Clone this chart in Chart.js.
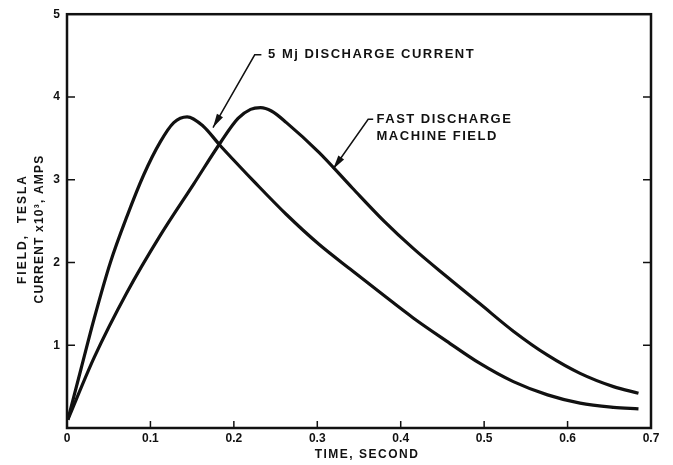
<!DOCTYPE html>
<html>
<head>
<meta charset="utf-8">
<script src="https://cdn.jsdelivr.net/npm/chart.js@4/dist/chart.umd.min.js"></script>
<style>
  html, body { margin: 0; padding: 0; background: #fff; }
  #wrap { width: 673px; height: 465px; position: relative; }
</style>
</head>
<body>
<div id="wrap"><canvas id="chart"></canvas></div>
<script>
// values
const currentTime = [0.001, 0.0167, 0.0325, 0.052, 0.072, 0.092, 0.112, 0.128, 0.144, 0.163, 0.183, 0.207, 0.224, 0.263, 0.302, 0.342, 0.38, 0.415, 0.455, 0.495, 0.535, 0.576, 0.615, 0.655, 0.685];
const currentValues = [0.1, 0.71, 1.32, 2.0, 2.56, 3.06, 3.46, 3.69, 3.76, 3.65, 3.42, 3.16, 2.98, 2.58, 2.22, 1.9, 1.6, 1.33, 1.05, 0.78, 0.56, 0.4, 0.3, 0.25, 0.23];

const fieldTime = [0.001, 0.0325, 0.072, 0.112, 0.152, 0.184, 0.205, 0.22, 0.232, 0.245, 0.263, 0.302, 0.342, 0.38, 0.415, 0.455, 0.495, 0.535, 0.576, 0.615, 0.655, 0.685];
const fieldValues = [0.1, 0.85, 1.64, 2.33, 2.95, 3.45, 3.74, 3.85, 3.87, 3.83, 3.69, 3.33, 2.9, 2.5, 2.17, 1.83, 1.5, 1.17, 0.88, 0.66, 0.5, 0.42];

const xTicks = [0, 0.1, 0.2, 0.3, 0.4, 0.5, 0.6, 0.7];
const yTicks = [0, 1, 2, 3, 4, 5];

const xTitle = 'TIME, SECOND';
const yTitle = ['FIELD,  TESLA', 'CURRENT x10³, AMPS'];

// leader labels: text lines, label anchor and arrow path (data units)
const labels = [
    { lines: ['5 Mj DISCHARGE CURRENT'], at: [0.241, 4.51], path: [[0.233, 4.51], [0.225, 4.51], [0.175, 3.63]] },
    { lines: ['FAST DISCHARGE', 'MACHINE FIELD'], at: [0.371, 3.73], path: [[0.367, 3.73], [0.361, 3.73], [0.319, 3.13]] }
];

const INK = '#111';
const FAMILY = '"Liberation Sans", Arial, sans-serif';

const toPoints = (xs, ys) => xs.map((x, i) => ({ x: x, y: ys[i] }));

// box around plot area with inward ticks, plus axis titles
const framePlugin = {
    id: 'frame',
    afterDraw(chart) {
        const { ctx, chartArea: a, scales } = chart;
        ctx.save();
        ctx.strokeStyle = INK;
        ctx.lineWidth = 2.5;
        ctx.strokeRect(a.left, a.top, a.right - a.left, a.bottom - a.top);
        ctx.lineWidth = 1.5;
        yTicks.slice(1, -1).forEach(v => {
            const py = scales.y.getPixelForValue(v);
            ctx.beginPath();
            ctx.moveTo(a.left, py); ctx.lineTo(a.left + 8, py);
            ctx.moveTo(a.right, py); ctx.lineTo(a.right - 8, py);
            ctx.stroke();
        });
        xTicks.slice(1, -1).forEach(v => {
            const px = scales.x.getPixelForValue(v);
            ctx.beginPath();
            ctx.moveTo(px, a.bottom); ctx.lineTo(px, a.bottom - 7);
            ctx.stroke();
        });

        // titles
        ctx.fillStyle = INK;
        ctx.font = 'bold 12px ' + FAMILY;
        ctx.letterSpacing = '1.5px';
        ctx.textAlign = 'center';
        ctx.textBaseline = 'middle';
        ctx.fillText(xTitle, (a.left + a.right) / 2 + 8, 455);
        ctx.save();
        ctx.translate(0, 229);
        ctx.rotate(-Math.PI / 2);
        ctx.letterSpacing = '2px';
        ctx.fillText(yTitle[0], 0, 23);
        ctx.letterSpacing = '1.2px';
        ctx.fillText(yTitle[1], 0, 40);
        ctx.restore();
        ctx.restore();
    }
};

// leader lines with arrow heads + label text
const leaderPlugin = {
    id: 'leaders',
    afterDatasetsDraw(chart) {
        const { ctx, scales } = chart;
        const px = p => [scales.x.getPixelForValue(p[0]), scales.y.getPixelForValue(p[1])];
        ctx.save();
        ctx.strokeStyle = INK;
        ctx.fillStyle = INK;
        ctx.lineWidth = 1.5;
        labels.forEach(l => {
            const pts = l.path.map(px);
            ctx.beginPath();
            ctx.moveTo(pts[0][0], pts[0][1]);
            pts.slice(1).forEach(p => ctx.lineTo(p[0], p[1]));
            ctx.stroke();
            // arrow head at last point
            const [x1, y1] = pts[pts.length - 2];
            const [x2, y2] = pts[pts.length - 1];
            const ang = Math.atan2(y2 - y1, x2 - x1);
            const len = 14, half = 3.5;
            ctx.beginPath();
            ctx.moveTo(x2, y2);
            ctx.lineTo(x2 - len * Math.cos(ang) + half * Math.sin(ang), y2 - len * Math.sin(ang) - half * Math.cos(ang));
            ctx.lineTo(x2 - len * Math.cos(ang) - half * Math.sin(ang), y2 - len * Math.sin(ang) + half * Math.cos(ang));
            ctx.closePath();
            ctx.fill();
            // text
            const [tx, ty] = px(l.at);
            ctx.font = 'bold 13px ' + FAMILY;
            ctx.letterSpacing = '1.5px';
            ctx.textAlign = 'left';
            ctx.textBaseline = 'middle';
            l.lines.forEach((s, i) => ctx.fillText(s, tx, ty + i * 17));
        });
        ctx.restore();
    }
};

new Chart(document.getElementById('chart'), {
    type: 'line',
    data: {
        datasets: [
            {
                label: '5 Mj discharge current',
                data: toPoints(currentTime, currentValues),
                borderColor: INK,
                borderWidth: 3.2,
                pointRadius: 0,
                cubicInterpolationMode: 'monotone',
                fill: false
            },
            {
                label: 'Fast discharge machine field',
                data: toPoints(fieldTime, fieldValues),
                borderColor: INK,
                borderWidth: 3.2,
                pointRadius: 0,
                cubicInterpolationMode: 'monotone',
                fill: false
            }
        ]
    },
    options: {
        responsive: true,
        maintainAspectRatio: false,
        animation: false,
        layout: { padding: { top: 13, right: 22, left: 4, bottom: 0 } },
        plugins: {
            legend: { display: false },
            tooltip: { enabled: false }
        },
        scales: {
            x: {
                type: 'linear',
                min: 0,
                max: 0.7,
                afterBuildTicks: s => { s.ticks = xTicks.map(v => ({ value: v })); },
                afterFit: s => { s.height = 37; },
                grid: { display: false, drawTicks: false },
                border: { display: false },
                ticks: {
                    color: INK,
                    font: { family: FAMILY, size: 12, weight: 'bold' },
                    padding: 3,
                    maxRotation: 0,
                    callback: v => v === 0 ? '0' : v.toFixed(1)
                }
            },
            y: {
                min: 0,
                max: 5,
                afterBuildTicks: s => { s.ticks = yTicks.map(v => ({ value: v })); },
                afterFit: s => { s.width = 63; },
                grid: { display: false, drawTicks: false },
                border: { display: false },
                ticks: {
                    color: INK,
                    font: { family: FAMILY, size: 12, weight: 'bold' },
                    padding: 7,
                    callback: v => v === 0 ? '' : String(v)
                }
            }
        }
    },
    plugins: [framePlugin, leaderPlugin]
});
</script>
</body>
</html>
